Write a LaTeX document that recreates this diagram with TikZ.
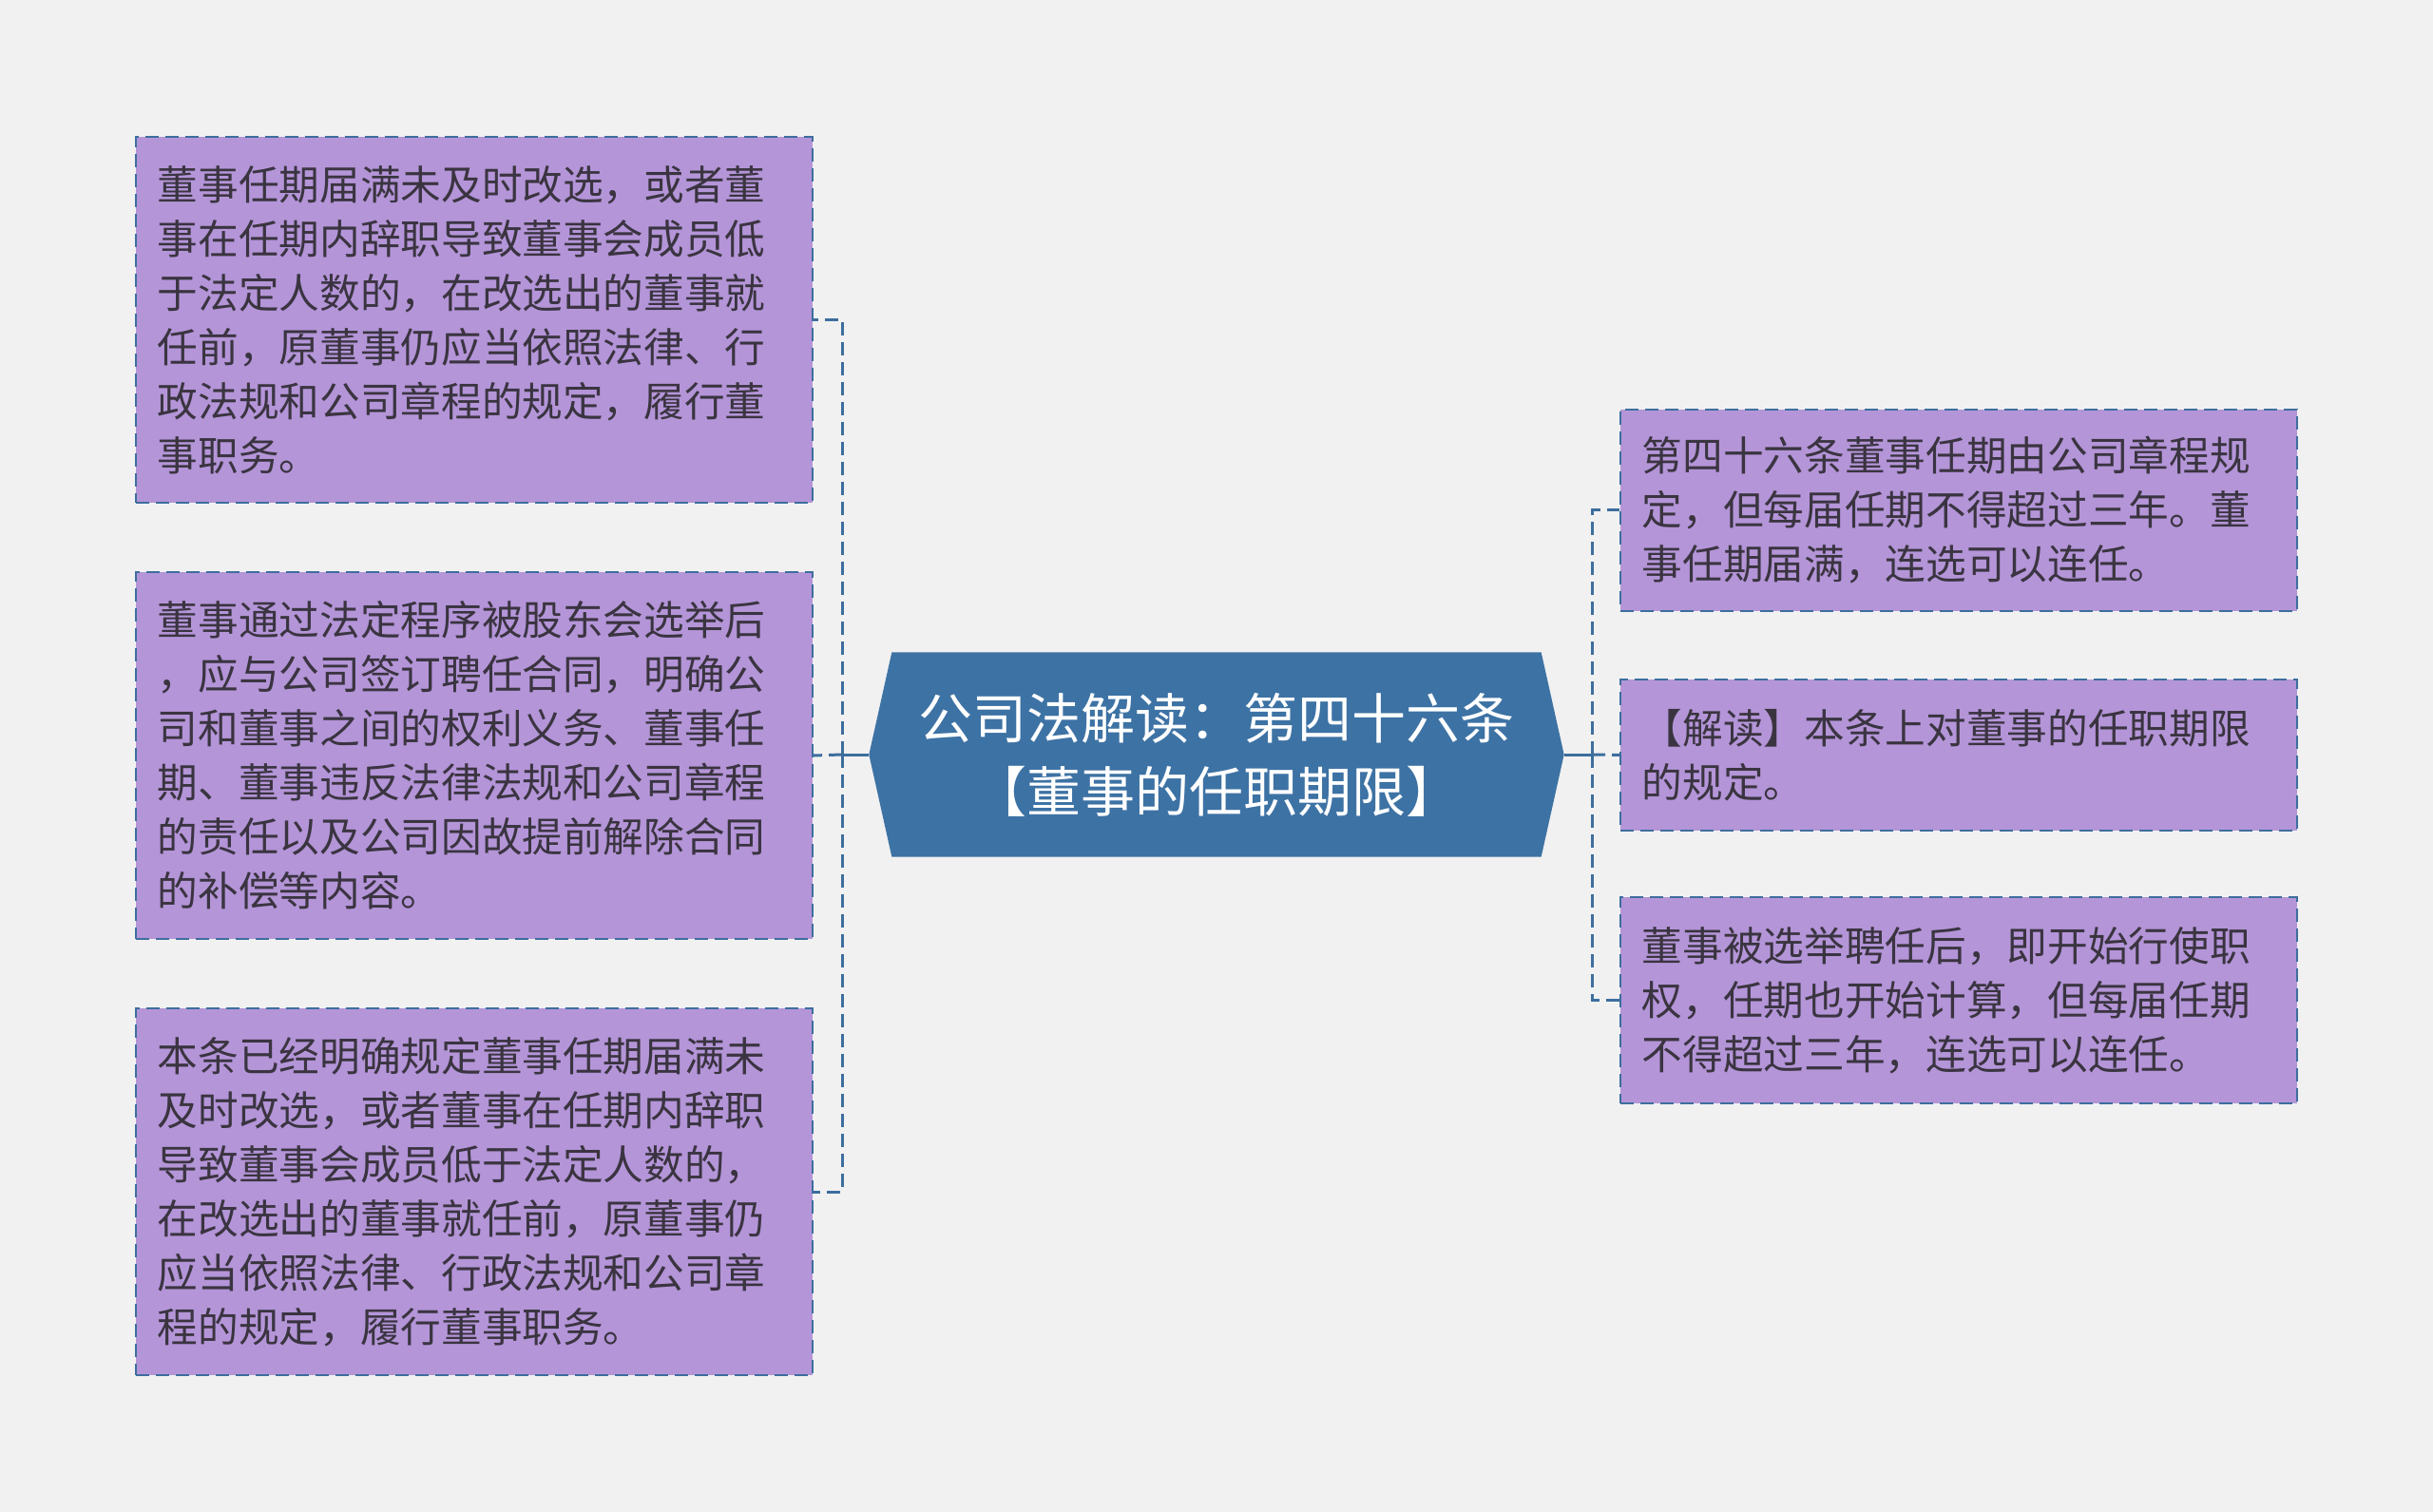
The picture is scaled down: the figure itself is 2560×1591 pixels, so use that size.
\documentclass[tikz,border=0pt]{standalone}
\usepackage{fontspec}
\setmainfont{Noto Sans CJK SC}
\usepackage{xcolor}
\usetikzlibrary{backgrounds}

\definecolor{pagebg}{HTML}{F1F1F1}
\definecolor{leafpurple}{HTML}{B495D8}
\definecolor{edgeblue}{HTML}{3D6E9E}
\definecolor{rootblue}{HTML}{3D72A4}
\definecolor{leaftext}{HTML}{3A3440}

\tikzset{
  leafbox/.style={draw=edgeblue, fill=leafpurple, dash pattern=on 4.2pt off 2.1pt, line width=0.7pt,
    text=leaftext, align=left, text width=200pt, inner xsep=6.8pt, minimum width=213.6pt,
    font=\fontsize{12.8pt}{17.1pt}\selectfont},
  rootbox/.style={text=white, align=center, minimum width=219pt, minimum height=64.2pt,
    font=\fontsize{17.1pt}{23.1pt}\selectfont},
  trunkline/.style={draw=edgeblue, line width=0.9pt},
  branchline/.style={trunkline, dash pattern=on 4.2pt off 2.1pt},
}

\begin{document}
\begin{tikzpicture}[x=0.3pt, y=-0.3pt]
\useasboundingbox (0,0) rectangle (2560,1591);

\node[rootbox] (root) at (1280,794) {公司法解读：第四十六条\\【董事的任职期限】};

% left side
\node[leafbox, minimum height=115.5pt] (b1) at (499,336.5) {董事任期届满未及时改选，或者董\\事在任期内辞职导致董事会成员低\\于法定人数的，在改选出的董事就\\任前，原董事仍应当依照法律、行\\政法规和公司章程的规定，履行董\\事职务。};
\node[leafbox, minimum height=115.8pt] (b2) at (499,795) {董事通过法定程序被股东会选举后\\，应与公司签订聘任合同，明确公\\司和董事之间的权利义务、董事任\\期、董事违反法律法规和公司章程\\的责任以及公司因故提前解除合同\\的补偿等内容。};
\node[leafbox, minimum height=115.8pt] (b3) at (499,1254) {本条已经明确规定董事任期届满未\\及时改选，或者董事在任期内辞职\\导致董事会成员低于法定人数的，\\在改选出的董事就任前，原董事仍\\应当依照法律、行政法规和公司章\\程的规定，履行董事职务。};

% right side
\node[leafbox, minimum height=63.6pt] (r1) at (2061,537) {第四十六条董事任期由公司章程规\\定，但每届任期不得超过三年。董\\事任期届满，连选可以连任。};
\node[leafbox, minimum height=47.7pt] (r2) at (2061,794.5) {【解读】本条上对董事的任职期限\\的规定。};
\node[leafbox, minimum height=65.1pt] (r3) at (2061,1052.5) {董事被选举聘任后，即开始行使职\\权，任期也开始计算，但每届任期\\不得超过三年，连选可以连任。};

% connectors
\coordinate (lhub) at (886,794);
\coordinate (rhub) at (1675,794);
\draw[trunkline] (root.west) -- (lhub);
\draw[trunkline] (root.east) -- (rhub);
\draw[branchline] (lhub) |- (b1.east);
\draw[branchline] (lhub) -- (b2.east);
\draw[branchline] (lhub) |- (b3.east);
\draw[branchline] (rhub) |- (r1.west);
\draw[branchline] (rhub) -- (r2.west);
\draw[branchline] (rhub) |- (r3.west);

\begin{scope}[on background layer]
  \fill[pagebg] (0,0) rectangle (2560,1591);
  \fill[rootblue] ([xshift=7.2pt]root.north west) -- ([xshift=-7.2pt]root.north east) -- (root.east)
    -- ([xshift=-7.2pt]root.south east) -- ([xshift=7.2pt]root.south west) -- (root.west) -- cycle;
\end{scope}
\end{tikzpicture}
\end{document}
